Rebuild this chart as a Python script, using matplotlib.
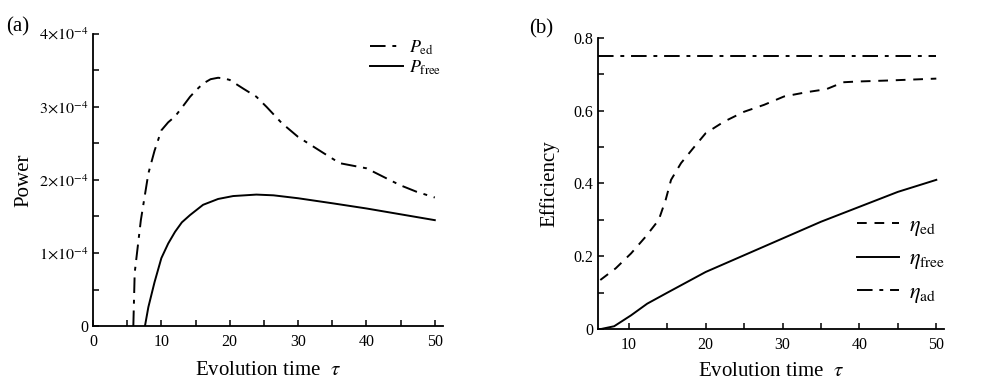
import matplotlib
matplotlib.use("Agg")
import matplotlib.pyplot as plt
from matplotlib.ticker import MultipleLocator, FixedLocator, FuncFormatter

plt.rcParams['font.family'] = ['Liberation Serif', 'DejaVu Serif']
plt.rcParams['mathtext.fontset'] = 'stix'

# ---- Panel (a): power ----
tau_ed = [5.9, 6.1, 7.0, 8.1, 9.0, 10.0, 11.0, 12.0, 13.0, 14.2, 15.2, 16.1, 17.2,
          18.3, 19.2, 20.0, 22.0, 23.9, 25.4, 27.6, 30.0, 33.7, 36.1, 40.0, 44.9,
          47.3, 50.0]
P_ed = [0.0, 0.73e-4, 1.45e-4, 2.09e-4, 2.40e-4, 2.68e-4, 2.79e-4, 2.87e-4,
        2.99e-4, 3.14e-4, 3.24e-4, 3.32e-4, 3.38e-4, 3.40e-4, 3.39e-4, 3.37e-4,
        3.25e-4, 3.14e-4, 3.00e-4, 2.78e-4, 2.59e-4, 2.37e-4, 2.23e-4, 2.16e-4,
        1.93e-4, 1.84e-4, 1.76e-4]
tau_free = [7.6, 8.1, 9.0, 10.0, 11.0, 12.0, 13.0, 14.2, 16.1, 18.3, 20.5, 23.9,
            26.4, 30.0, 35.1, 40.0, 45.0, 50.0]
P_free = [0.0, 0.26e-4, 0.60e-4, 0.93e-4, 1.13e-4, 1.29e-4, 1.42e-4, 1.52e-4,
          1.66e-4, 1.74e-4, 1.78e-4, 1.80e-4, 1.79e-4, 1.75e-4, 1.68e-4, 1.61e-4,
          1.53e-4, 1.45e-4]
power_yticks = [0, 1e-4, 2e-4, 3e-4, 4e-4]
power_yticklabels = ['0', r'$1{\times}10^{-4}$', r'$2{\times}10^{-4}$',
                     r'$3{\times}10^{-4}$', r'$4{\times}10^{-4}$']

# ---- Panel (b): efficiency ----
tau_eta_ed = [6.3, 8.3, 10.3, 12.2, 13.9, 14.8, 15.5, 16.8, 18.5, 20.0, 22.4, 25.0,
              27.6, 30.2, 33.2, 35.7, 37.9, 39.7, 44.0, 50.0]
eta_ed = [0.135, 0.167, 0.208, 0.254, 0.300, 0.355, 0.410, 0.456, 0.500, 0.538,
          0.570, 0.597, 0.616, 0.639, 0.651, 0.659, 0.678, 0.680, 0.683, 0.688]
tau_eta_free = [6.3, 8.1, 10.3, 12.4, 15.0, 20.0, 25.0, 30.0, 35.0, 40.0, 45.0, 50.0]
eta_free = [0.0, 0.008, 0.038, 0.070, 0.100, 0.157, 0.203, 0.249, 0.295, 0.336,
            0.377, 0.410]
tau_eta_ad = [6.0, 50.0]
eta_ad = [0.75, 0.75]

fig = plt.figure(figsize=(10, 3.9), dpi=100)
ax1 = fig.add_axes([0.093, 0.164, 0.350, 0.749])
ax2 = fig.add_axes([0.598, 0.156, 0.346, 0.747])

lw = 1.4
dashdot = (0, (8, 3.5, 2, 3.5))
for ax in (ax1, ax2):
    for s in ('top', 'right'):
        ax.spines[s].set_visible(False)
    for s in ('left', 'bottom'):
        ax.spines[s].set_linewidth(1.3)
    ax.tick_params(which='both', direction='in', length=4, width=1.1,
                   labelsize=11.5, top=False, right=False)
    ax.tick_params(axis='x', pad=6)

# Panel a
ax1.plot(tau_ed, P_ed, color='black', lw=lw, linestyle=dashdot,
         label=r'$P_{\rm ed}$')
ax1.plot(tau_free, P_free, color='black', lw=lw, linestyle='-',
         label=r'$P_{\rm free}$')
ax1.set_xlim(0, 51.2)
ax1.set_ylim(0, 4e-4)
ax1.xaxis.set_major_locator(MultipleLocator(10))
ax1.xaxis.set_minor_locator(MultipleLocator(5))
ax1.yaxis.set_major_locator(FixedLocator(power_yticks))
ax1.set_yticklabels(power_yticklabels)
ax1.yaxis.set_minor_locator(MultipleLocator(0.5e-4))
ax1.set_xlabel(r'Evolution time  $\tau$', fontsize=15, labelpad=8)
ax1.set_ylabel('Power', fontsize=15, labelpad=4)
ax1.legend(loc='center left', frameon=False, fontsize=13, handlelength=1.8,
           handletextpad=0.35, borderaxespad=0, labelspacing=0.1,
           bbox_to_anchor=(0.771, 0.918))

# Panel b
ax2.plot(tau_eta_ed, eta_ed, color='black', lw=lw, linestyle=(0, (5, 4)),
         label=r'$\eta_{\rm ed}$')
ax2.plot(tau_eta_free, eta_free, color='black', lw=lw, linestyle='-',
         label=r'$\eta_{\rm free}$')
ax2.plot(tau_eta_ad, eta_ad, color='black', lw=lw, linestyle=dashdot,
         label=r'$\eta_{\rm ad}$')
ax2.set_xlim(6, 51)
ax2.set_ylim(0, 0.8)
ax2.xaxis.set_major_locator(MultipleLocator(10))
ax2.xaxis.set_minor_locator(MultipleLocator(5))
ax2.yaxis.set_major_locator(MultipleLocator(0.2))
ax2.yaxis.set_minor_locator(MultipleLocator(0.1))
ax2.yaxis.set_major_formatter(FuncFormatter(lambda v, p: '0' if abs(v) < 1e-9 else f'{v:.1f}'))
ax2.set_xlabel(r'Evolution time  $\tau$', fontsize=15, labelpad=6)
ax2.set_ylabel('Efficiency', fontsize=15, labelpad=10)
ax2.legend(loc='center left', frameon=False, fontsize=16, handlelength=1.9,
           handletextpad=0.45, borderaxespad=0, labelspacing=0.5,
           bbox_to_anchor=(0.723, 0.237))

fig.text(0.006, 0.918, '(a)', fontsize=15)
fig.text(0.529, 0.915, '(b)', fontsize=15)

fig.savefig('out.png', dpi=100)
